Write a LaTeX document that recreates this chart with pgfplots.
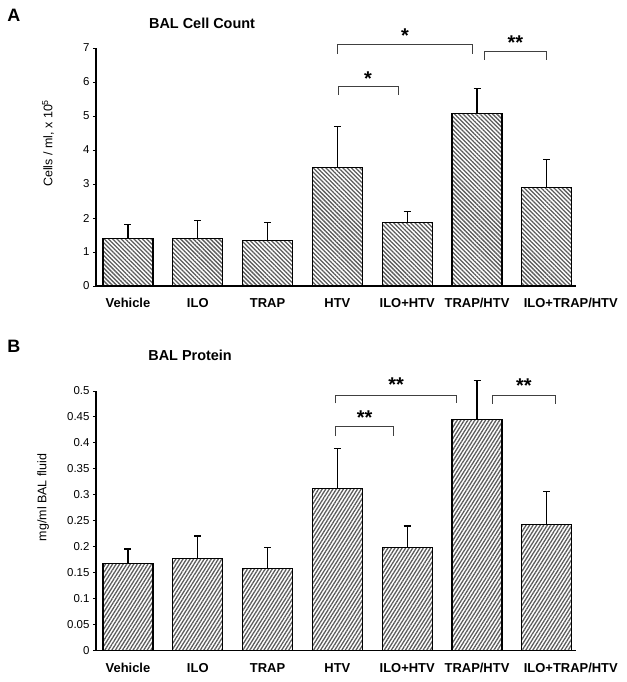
\documentclass[border=0pt]{standalone}
\usepackage{pgfplots}
\pgfplotsset{compat=1.18}
\usepackage{fontspec}
\setmainfont{Liberation Sans}
\usetikzlibrary{patterns.meta}

\pgfplotsset{
  bal/.style={
    scale only axis, width=480bp,
    axis lines*=left, clip=false,
    xmin=-0.458, xmax=6.418, ymin=0,
    ybar, bar width=50bp,
    xtick={0,...,6},
    xticklabels={Vehicle,ILO,TRAP,HTV,ILO+HTV,TRAP/HTV,\hspace*{48bp}ILO+TRAP/HTV},
    major x tick style={draw=none},
    x tick label style={font=\fontsize{13}{15}\selectfont\bfseries, yshift=-6bp},
    y tick label style={font=\fontsize{11.5}{13}\selectfont},
    /pgf/number format/assume math mode=true,
    tick align=outside, major tick length=3bp,
    ytick style={black, line width=1bp},
    axis line style={line width=1.2bp},
    ylabel style={font=\fontsize{12.5}{14}\selectfont, rotate=0},
  },
  barstyle/.style={
    draw=black, line width=1.2bp, pattern color=black!64,
    error bars/.cd, y dir=plus, y explicit,
    error mark options={rotate=90, mark size=3.5bp, line width=1.2bp, black},
    error bar style={line width=1.3bp, black},
  },
}
\tikzset{
  brk/.style={black!75, line width=0.9bp},
  star/.style={font=\fontsize{20}{20}\selectfont\bfseries, anchor=base, inner sep=0pt},
}

\begin{document}
\begin{tikzpicture}
\useasboundingbox (0,0) rectangle (627bp,-682bp);

% Panel A
\begin{axis}[bal, at={(96bp,-286bp)}, anchor=south west,
  height=238bp, ymax=7, ytick={0,...,7},
  ylabel={Cells / ml, x 10\textsuperscript{5}},
  ylabel style={at={(axis description cs:-0.1,0.6)}, anchor=center},
  title={\bfseries BAL Cell Count},
  title style={font=\fontsize{14.5}{16}\selectfont, at={(axis description cs:0.221,1.08)}, anchor=center},
]
\addplot[pattern={Lines[angle=-45,distance=3bp,line width=1.3bp]}, barstyle] coordinates {
  (0,1.40) +- (0,0.42)
  (1,1.40) +- (0,0.52)
  (2,1.35) +- (0,0.51)
  (3,3.48) +- (0,1.22)
  (4,1.86) +- (0,0.33)
  (5,5.07) +- (0,0.74)
  (6,2.90) +- (0,0.82)
};
\draw[brk] (axis cs:3.00,6.82) |- (axis cs:4.94,7.09) -- (axis cs:4.94,6.82);
\draw[brk] (axis cs:3.02,5.62) |- (axis cs:3.87,5.86) -- (axis cs:3.87,5.62);
\draw[brk] (axis cs:5.11,6.65) |- (axis cs:6.00,6.91) -- (axis cs:6.00,6.65);
\node[star] at (axis cs:3.97,7.17) {*};
\node[star] at (axis cs:3.44,5.90) {*};
\node[star] at (axis cs:5.55,6.96) {**};
\node[font=\fontsize{18}{18}\selectfont\bfseries] at (axis description cs:-0.171,1.139) {A};
\end{axis}

% Panel B
\begin{axis}[bal, at={(96bp,-650.7bp)}, anchor=south west,
  height=259.7bp, ymax=0.5,
  ytick={0,0.05,0.1,0.15,0.2,0.25,0.3,0.35,0.4,0.45,0.5},
  yticklabels={0,0.05,0.1,0.15,0.2,0.25,0.3,0.35,0.4,0.45,0.5},
  ylabel={mg/ml BAL fluid},
  ylabel style={at={(axis description cs:-0.11,0.59)}, anchor=center},
  title={\bfseries BAL Protein},
  title style={font=\fontsize{14.5}{16}\selectfont, at={(axis description cs:0.196,1.115)}, anchor=center},
]
\addplot[pattern={Lines[angle=58,distance=3bp,line width=1.3bp]}, barstyle] coordinates {
  (0,0.168) +- (0,0.028)
  (1,0.178) +- (0,0.043)
  (2,0.159) +- (0,0.040)
  (3,0.312) +- (0,0.078)
  (4,0.198) +- (0,0.042)
  (5,0.445) +- (0,0.075)
  (6,0.243) +- (0,0.064)
};
\draw[brk] (axis cs:2.97,0.476) |- (axis cs:4.71,0.492) -- (axis cs:4.71,0.476);
\draw[brk] (axis cs:2.97,0.413) |- (axis cs:3.81,0.431) -- (axis cs:3.81,0.413);
\draw[brk] (axis cs:5.22,0.475) |- (axis cs:6.12,0.492) -- (axis cs:6.12,0.475);
\node[star] at (axis cs:3.84,0.499) {**};
\node[star] at (axis cs:3.39,0.436) {**};
\node[star] at (axis cs:5.67,0.497) {**};
\node[font=\fontsize{18}{18}\selectfont\bfseries] at (axis description cs:-0.171,1.171) {B};
\end{axis}
\end{tikzpicture}
\end{document}
